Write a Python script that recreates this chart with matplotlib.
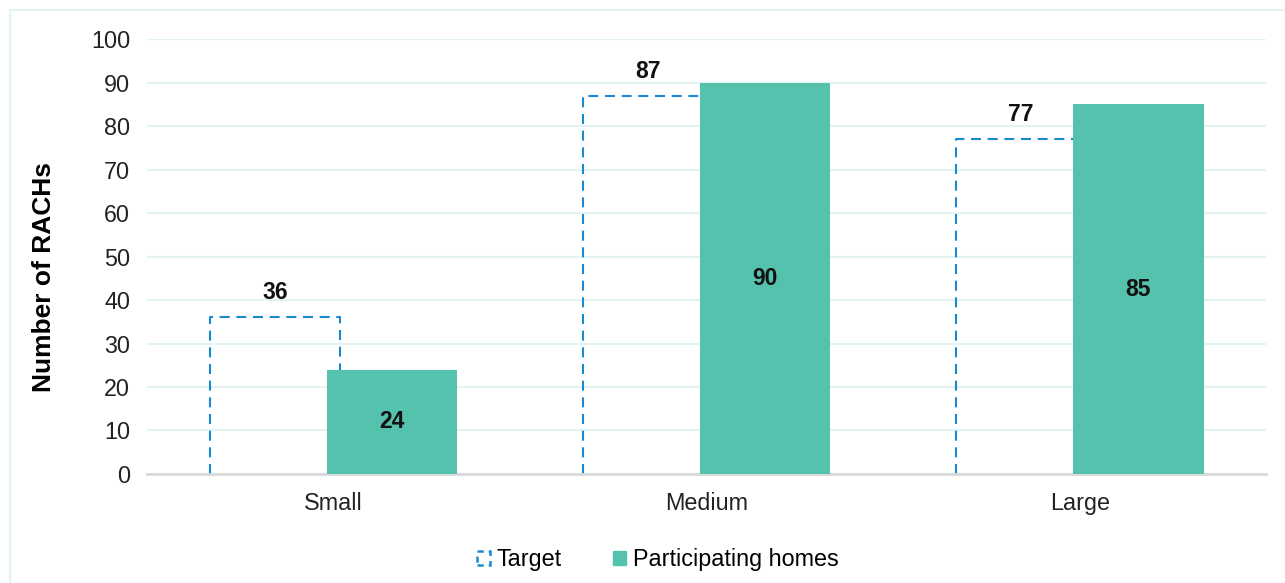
import numpy as np
import matplotlib.pyplot as plt
from matplotlib.patches import Rectangle

categories = ["Small", "Medium", "Large"]
target = [36, 87, 77]
participating = [24, 90, 85]
yticks = [0, 10, 20, 30, 40, 50, 60, 70, 80, 90, 100]

green = "#55c2ae"
blue = "#1a8ad0"
grid_col = "#e3f3f0"
dash = (0, (4.8, 3.2))

plt.rcParams["font.family"] = ["Liberation Sans", "DejaVu Sans"]

fig = plt.figure(figsize=(12.85, 5.83), dpi=100)
ax = fig.add_axes([0.1144, 0.187, 0.871, 0.746])

# light frame round the chart area
fig.patches.append(Rectangle((10 / 1285, -0.1), 1.2, 1 - 10 / 583 + 0.1,
                             transform=fig.transFigure, fill=False,
                             edgecolor="#e3f3f0", linewidth=1.5))

x = np.arange(len(categories))
w = 0.35
off = 0.157

# target: dashed outline without a bottom edge
for xi, t in zip(x - off, target):
    ax.plot([xi - w / 2, xi - w / 2, xi + w / 2, xi + w / 2], [0, t, t, 0],
            color=blue, linestyle=dash, linewidth=1.5, zorder=2)
    ax.text(xi, t + 3, str(t), ha="center", va="bottom", fontsize=16.5,
            fontweight="bold", color="#111111")

bars = ax.bar(x + off, participating, width=w, color=green, zorder=3)
for b, v in zip(bars, participating):
    ax.text(b.get_x() + b.get_width() / 2, v / 2, str(v), ha="center",
            va="center", fontsize=16.5, fontweight="bold", color="#111111",
            zorder=4)

ax.set_xlim(-0.5, 2.5)
ax.set_ylim(0, 100)
ax.set_yticks(yticks)
ax.set_xticks(x)
ax.set_xticklabels(categories)
ax.tick_params(axis="both", length=0, labelsize=16.8, colors="#222222")
ax.tick_params(axis="x", pad=13)
ax.tick_params(axis="y", pad=12)
ax.grid(axis="y", color=grid_col, linewidth=1.5, zorder=0)
ax.set_axisbelow(True)
for s in ["top", "right", "left"]:
    ax.spines[s].set_visible(False)
ax.spines["bottom"].set_color("#d9d9d9")
ax.spines["bottom"].set_linewidth(2)
ax.set_ylabel("Number of RACHs", fontsize=19, fontweight="bold")
ax.yaxis.set_label_coords(-0.081, 0.453)

handles = [Rectangle((0, 0), 1, 1, fill=False, edgecolor=blue,
                     linestyle=(0, (2.5, 2)), linewidth=1.8),
           Rectangle((0, 0), 1, 1, color=green)]
fig.legend(handles, ["Target", "Participating homes"], loc="center",
           bbox_to_anchor=(0.512, 0.04), ncol=2, frameon=False, fontsize=16.8,
           handlelength=0.55, handleheight=0.55, columnspacing=2.2,
           handletextpad=0.3)

fig.savefig("out.png", dpi=100)
